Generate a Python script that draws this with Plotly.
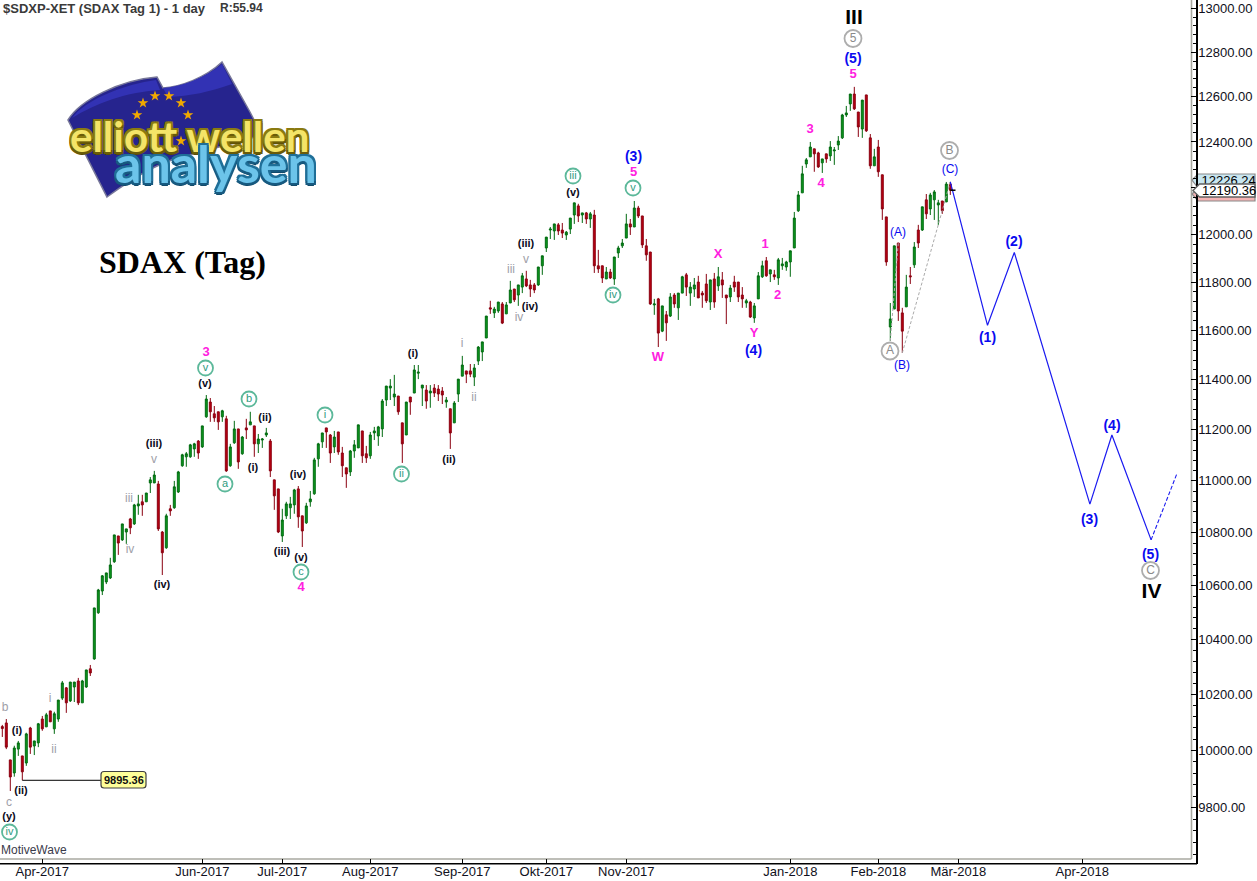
import math
import plotly.graph_objects as go

# ---------- price data (SDAX daily) ----------
open_ = [
 10085,10098,9967,9921,10005,9981,9956,10080,10016,10027,
 10112,10084,10141,10077,10112,10187,10224,10177,10227,10249,
 10170,10227,10293,10329,10499,10580,10614,10629,10690,10788,
 10773,10803,10853,10834,10903,10919,10919,10992,10992,10988,
 10803,10743,10892,10896,10957,11059,11094,11094,11125,11156,
 11133,11252,11311,11264,11272,11252,11244,11059,11149,11204,
 11106,11208,11220,11216,11145,11160,11180,11156,11004,10969,
 10788,10865,10896,10907,10969,10865,10838,10919,10950,11086,
 11153,11208,11180,11133,11192,11109,11051,11035,11117,11129,
 11196,11106,11098,11188,11176,11204,11319,11367,11331,11335,
 11228,11180,11331,11347,11427,11367,11359,11347,11367,11363,
 11355,11311,11284,11228,11343,11415,11436,11436,11411,11476,
 11513,11570,11694,11673,11681,11710,11669,11714,11772,11747,
 11780,11814,11789,11789,11789,11869,11944,12020,12016,12042,
 12020,11999,12024,12084,12123,12084,12093,12067,12084,11869,
 11869,11814,11843,11814,11923,11953,11986,12046,12033,12114,
 12080,11953,11927,11706,11731,11598,11665,11660,11747,11694,
 11755,11831,11755,11772,11801,11755,11793,11718,11814,11785,
 11810,11747,11739,11801,11801,11747,11714,11718,11652,11731,
 11823,11890,11835,11831,11818,11869,11864,11885,11944,12102,
 12179,12304,12335,12370,12352,12309,12348,12339,12361,12387,
 12418,12519,12568,12612,12532,12457,12608,12418,12296,12378,
 12257,12076,11615,11689,11965,11673,11698,11827,11873,12020,
 12020,12149,12110,12149,12127,12144,12140,12217]
high = [
 10091,10112,9967,10017,10034,9981,10063,10084,10034,10098,
 10123,10134,10141,10138,10180,10249,10227,10245,10245,10260,
 10253,10289,10307,10517,10588,10640,10648,10705,10792,10788,
 10834,10815,10857,10911,10946,10946,10953,11015,11039,11000,
 10807,10873,10907,11000,11039,11106,11113,11145,11149,11160,
 11216,11339,11327,11295,11272,11280,11256,11145,11236,11204,
 11176,11244,11272,11216,11184,11168,11208,11164,11004,10969,
 10892,10919,10938,10969,10980,10865,10915,10961,11090,11149,
 11188,11208,11184,11196,11192,11133,11051,11121,11160,11220,
 11196,11137,11192,11212,11216,11323,11375,11403,11420,11335,
 11228,11311,11331,11460,11460,11379,11379,11379,11383,11379,
 11371,11331,11284,11315,11403,11497,11436,11464,11464,11537,
 11554,11660,11723,11698,11718,11718,11718,11806,11772,11789,
 11839,11848,11810,11797,11864,11911,11990,12033,12046,12050,
 12050,12016,12071,12136,12132,12093,12097,12097,12106,11936,
 11869,11864,11856,11906,11953,11982,12089,12067,12144,12123,
 12080,11982,11927,11731,11735,11702,11681,11755,11755,11755,
 11827,11839,11801,11818,11827,11764,11835,11810,11839,11864,
 11843,11747,11789,11827,11801,11780,11731,11723,11714,11843,
 11890,11906,11852,11852,11902,11902,11890,11932,12097,12187,
 12296,12330,12400,12370,12357,12326,12348,12404,12378,12426,
 12524,12559,12612,12644,12532,12585,12608,12435,12370,12409,
 12257,12076,11714,11953,11965,11694,11831,11864,11969,12042,
 12119,12174,12179,12191,12149,12144,12226,12226.24]
low = [
 10048,10005,9858,9908,9981,9895.36,9946,9988,9984,10012,
 10070,10084,10102,10059,10102,10180,10134,10173,10173,10162,
 10170,10224,10267,10326,10495,10565,10606,10625,10686,10716,
 10769,10758,10795,10830,10869,10865,10919,10953,10992,10807,
 10640,10739,10865,10892,10953,11055,11055,11090,11094,11086,
 11129,11248,11232,11232,11200,11232,11035,11055,11145,11047,
 11102,11164,11220,11094,11109,11129,11172,11015,10888,10799,
 10765,10853,10853,10873,10819,10746,10834,10900,10946,11055,
 11129,11129,11070,11109,11102,11015,10973,11019,11090,11129,
 11070,11070,11086,11160,11137,11172,11295,11319,11295,11260,
 11070,11180,11260,11347,11403,11295,11284,11288,11331,11315,
 11303,11288,11125,11228,11311,11415,11387,11411,11375,11460,
 11476,11570,11669,11652,11673,11627,11669,11714,11718,11702,
 11755,11780,11739,11755,11785,11831,11927,11982,11978,11999,
 11986,11978,12003,12046,12054,12050,12046,12029,11839,11839,
 11797,11814,11814,11789,11902,11944,11986,11999,12033,12071,
 11944,11890,11706,11665,11533,11594,11558,11656,11694,11644,
 11755,11743,11702,11739,11735,11694,11714,11685,11694,11764,
 11735,11627,11718,11760,11718,11694,11694,11652,11632,11731,
 11818,11823,11801,11810,11789,11852,11848,11823,11944,12097,
 12179,12287,12335,12270,12287,12265,12309,12317,12300,12365,
 12413,12510,12537,12541,12422,12418,12444,12283,12296,12248,
 12063,11869,11558,11689,11640,11509,11698,11793,11860,11944,
 12016,12067,12084,12063,12042,12089,12140,12170]
close = [
 10078,10012,9907,10009,10027,9925,10059,10012,10034,10095,
 10077,10127,10102,10131,10180,10242,10170,10245,10245,10170,
 10249,10289,10278,10517,10584,10637,10648,10678,10792,10761,
 10834,10815,10819,10907,10911,10907,10953,11004,11023,10815,
 10724,10865,10884,10977,11035,11102,11106,11141,11145,11109,
 11216,11323,11272,11248,11232,11276,11039,11133,11204,11074,
 11172,11200,11232,11145,11164,11164,11188,11039,10942,10803,
 10849,10911,10911,10965,10861,10807,10903,10930,11082,11145,
 11188,11192,11109,11172,11113,11059,11027,11117,11141,11220,
 11098,11090,11180,11196,11212,11315,11375,11375,11343,11272,
 11145,11311,11311,11440,11431,11379,11315,11355,11347,11343,
 11339,11319,11188,11307,11403,11460,11423,11423,11448,11533,
 11554,11660,11689,11689,11718,11631,11706,11768,11727,11789,
 11827,11785,11772,11768,11864,11911,11990,12024,12046,12016,
 12007,12011,12071,12136,12080,12093,12067,12089,11869,11856,
 11818,11843,11818,11906,11944,11965,12046,12033,12114,12080,
 11957,11915,11710,11710,11590,11702,11632,11739,11710,11755,
 11823,11780,11780,11789,11735,11747,11723,11810,11718,11823,
 11789,11735,11776,11780,11739,11731,11723,11656,11702,11827,
 11869,11827,11852,11823,11894,11877,11885,11932,12071,12170,
 12261,12322,12378,12348,12291,12326,12326,12378,12365,12404,
 12519,12528,12612,12546,12466,12585,12449,12296,12335,12270,
 12110,11885,11648,11953,11681,11598,11780,11823,11948,11965,
 12119,12089,12170,12183,12136,12102,12217,12190.36]

# projected wave path (bar number, price)
wave_bars = [237, 246.3, 253, 271.9, 277.4, 287.2]
wave_prices = [12226.24, 11622, 11925, 10910, 11180, 10773]
wave_end_bars = [287.2, 293.7]
wave_end_prices = [10773, 11030]
guide_a_bars, guide_a_prices = [222, 224], [11558, 11965]
guide_b_bars, guide_b_prices = [225, 237], [11509, 12226.24]

x_tick_bars = [10, 50, 70, 92, 115, 136, 156, 197, 219, 239, 270]
x_tick_text = ["Apr-2017","Jun-2017","Jul-2017","Aug-2017","Sep-2017","Okt-2017",
               "Nov-2017","Jan-2018","Feb-2018","Mär-2018","Apr-2018"]
y_ticks = [9800,10000,10200,10400,10600,10800,11000,11200,11400,11600,11800,12000,12200,12400,12600,12800,13000]
y_minor = [v for v in range(9640, 13040, 40) if v % 200 != 0]

# ---------- page geometry ----------
W, H = 1257, 881
AXIS_X, PL_H = 1197, 864
def bx(px): return (px - 2.3) / 4.0
def pr(py): return 13000 * math.exp(-(py - 8.3) / 2829.0)
def fx(px): return px / W
def fy(py): return 1 - py / PL_H
def poly(pts):
    return "M " + " L ".join(f"{fx(a):.5f},{fy(b):.5f}" for a, b in pts) + " Z"

# ---------- wave labels (centre position on the page) ----------
BLACK = [("(y)",9,816),("(i)",17,730),("(ii)",21,790.5),("(iv)",162,584),("(iii)",154,443),
         ("(v)",205,383),("(ii)",265,417),("(i)",253,467),("(iii)",282,551),("(v)",301,557),
         ("(iv)",298,474),("(i)",413,353),("(ii)",449,459),("(iii)",526,243),("(iv)",530,306),
         ("(v)",573,192)]
GRAY = [("b",5,707),("c",9,802),("i",50,698),("ii",54,749),("iii",129,498),("iv",130,549),
        ("v",154,459),("i",462,343),("ii",474,397),("iii",511,269),("v",526,259),("iv",519,317)]
MAGENTA = [("3",206,352),("4",301,587),("5",633.5,172),("W",658,357),("X",718,254),("1",765,244),
           ("2",777.5,295),("Y",754,333),("3",810,129),("4",821,183),("5",853,74)]
BLUE_BOLD = [("(3)",633.5,156),("(4)",753.5,350.5),("(5)",853,58),("(1)",987.5,337),("(2)",1014,241),
             ("(3)",1089.5,519),("(4)",1112,425),("(5)",1150.5,554)]
BLUE_THIN = [("(A)",898,232),("(B)",902,365),("(C)",950,169)]
ROMAN = [("III",854,17.5),("IV",1151.5,592)]
CIRCLE_GREEN = [("iv",9.5,832),("v",205.5,368),("b",249,399),("a",225,484),("c",301,572),("i",325,415),
                ("ii",401.5,474),("iii",573,176),("v",633,188),("iv",613,295)]
CIRCLE_GRAY = [("5",853,38.5),("A",890,351),("B",949.5,150.5),("C",1150.5,570.5)]
STARS = [(143,103),(155,96),(169,96),(181,103),(188,115),(181,141),(137,115)]
TEXT_DY = 1

fig = go.Figure()

def add_labels(items, size, color, bold=False, family="Liberation Sans"):
    fig.add_trace(go.Scatter(
        x=[bx(a) for _, a, _ in items], y=[pr(b + TEXT_DY) for _, _, b in items],
        text=[t for t, _, _ in items], mode="text", textposition="middle center",
        textfont=dict(family=family, size=size, color=color, weight=700 if bold else 400),
        hoverinfo="skip", showlegend=False, cliponaxis=False))

def add_circles(items, size, ring, txt, fsize):
    fig.add_trace(go.Scatter(
        x=[bx(a) for _, a, _ in items], y=[pr(b) for _, _, b in items],
        text=[t for t, _, _ in items], mode="markers+text", textposition="middle center",
        marker=dict(symbol="circle", size=size, color="white", line=dict(color=ring, width=1.8)),
        textfont=dict(family="Liberation Sans", size=fsize, color=txt),
        hoverinfo="skip", showlegend=False, cliponaxis=False))

fig.add_trace(go.Candlestick(
    x=list(range(len(close))), open=open_, high=high, low=low, close=close,
    increasing=dict(line=dict(color="#006a10", width=1), fillcolor="#0c9a1e"),
    decreasing=dict(line=dict(color="#8a0010", width=1), fillcolor="#bb0010"),
    whiskerwidth=0, showlegend=False, hoverinfo="skip"))

line_kw = dict(mode="lines", hoverinfo="skip", showlegend=False)
fig.add_trace(go.Scatter(x=guide_a_bars, y=guide_a_prices, line=dict(color="#aaaaaa", width=1, dash="3px,2px"), **line_kw))
fig.add_trace(go.Scatter(x=guide_b_bars, y=guide_b_prices, line=dict(color="#aaaaaa", width=1, dash="3px,2px"), **line_kw))
fig.add_trace(go.Scatter(x=wave_bars, y=wave_prices, line=dict(color="#1a1af0", width=1.2), **line_kw))
fig.add_trace(go.Scatter(x=wave_end_bars, y=wave_end_prices, line=dict(color="#1a1af0", width=1.1, dash="4px,2px"), **line_kw))
fig.add_trace(go.Scatter(x=[237, 238.3], y=[12190.36, 12190.36], line=dict(color="black", width=1.5), **line_kw))
fig.add_trace(go.Scatter(x=[5, bx(102)], y=[9895.36, 9895.36], line=dict(color="black", width=1), **line_kw))

add_labels(BLACK, 11, "#0a0a20", bold=True)
add_labels(GRAY, 12, "#a0a0a8")
add_labels(MAGENTA, 13, "#ff20e0", bold=True)
add_labels(BLUE_BOLD, 14, "#0a0af0", bold=True)
add_labels(BLUE_THIN, 12, "#0a0af0")
add_labels(ROMAN, 21, "black", bold=True)
add_circles(CIRCLE_GREEN, 15, "#5cb89a", "#2f9a80", 11)
add_circles(CIRCLE_GRAY, 17, "#adadad", "#8a8a8a", 12)

# logo stars
fig.add_trace(go.Scatter(
    x=[bx(a) for a, _ in STARS], y=[pr(b) for _, b in STARS], mode="markers",
    marker=dict(symbol="star", size=8, color="#f0a800", line=dict(width=0)),
    hoverinfo="skip", showlegend=False))

# upper price tag text, half covered by the white tag
fig.add_trace(go.Scatter(
    x=[bx(1201.5)], y=[pr(181.5)], text=["12226.24"], mode="text", textposition="middle right",
    textfont=dict(family="Liberation Sans", size=13, color="black"),
    hoverinfo="skip", showlegend=False))

shapes = [
    # inner gray frame and bottom axis line
    dict(type="line", xref="paper", yref="paper", x0=fx(1191.5), x1=fx(1191.5), y0=fy(859), y1=1,
         line=dict(color="#a8a8a0", width=1.6), layer="below"),
    dict(type="line", xref="paper", yref="paper", x0=0, x1=fx(1191.5), y0=fy(859), y1=fy(859),
         line=dict(color="#a8a8a0", width=1.6), layer="below"),
    dict(type="line", xref="paper", yref="paper", x0=0, x1=fx(AXIS_X), y0=fy(863.7), y1=fy(863.7),
         line=dict(color="black", width=1.5), layer="above"),
    # logo flag
    dict(type="path", xref="paper", yref="paper", layer="below", fillcolor="#26248e",
         line=dict(color="#777799", width=1.5),
         path=f"M {fx(68)},{fy(120)} C {fx(80)},{fy(100)} {fx(120)},{fy(80)} {fx(157)},{fy(77)} "
              f"L {fx(163)},{fy(88)} C {fx(180)},{fy(87)} {fx(205)},{fy(78)} {fx(222)},{fy(62)} "
              f"L {fx(250)},{fy(112)} L {fx(262)},{fy(135)} L {fx(190)},{fy(155)} "
              f"C {fx(160)},{fy(160)} {fx(130)},{fy(180)} {fx(107)},{fy(197)} Z"),
    dict(type="path", xref="paper", yref="paper", layer="below", fillcolor="#3232b4", line=dict(width=0),
         path=f"M {fx(72)},{fy(118)} C {fx(85)},{fy(100)} {fx(125)},{fy(84)} {fx(156)},{fy(80)} "
              f"L {fx(160)},{fy(90)} C {fx(125)},{fy(92)} {fx(95)},{fy(104)} {fx(72)},{fy(118)} Z"),
    dict(type="path", xref="paper", yref="paper", layer="below", fillcolor="#3232b4", line=dict(width=0),
         path=f"M {fx(163)},{fy(88)} C {fx(180)},{fy(87)} {fx(205)},{fy(78)} {fx(222)},{fy(64)} "
              f"L {fx(232)},{fy(84)} C {fx(210)},{fy(92)} {fx(190)},{fy(96)} {fx(168)},{fy(97)} Z"),
    # price tags
    dict(type="path", xref="paper", yref="paper", layer="below", fillcolor="#c8e6f0",
         line=dict(color="#8a8a8a", width=1.2),
         path=poly([(1192, 180), (1198, 174), (1255, 174), (1255, 188), (1198, 188)])),
    dict(type="path", xref="paper", yref="paper", layer="below", fillcolor="#f5b4b4",
         line=dict(color="#8a8a8a", width=1.2),
         path=poly([(1192, 194), (1198, 188), (1255, 188), (1255, 201), (1198, 201)])),
    dict(type="path", xref="paper", yref="paper", layer="above", fillcolor="white",
         line=dict(color="#606060", width=1.4),
         path=poly([(1193, 190.5), (1199.5, 184), (1255, 184), (1255, 197), (1199.5, 197)])),
    # low-price box
    dict(type="path", xref="paper", yref="paper", layer="above", fillcolor="#ffff99",
         line=dict(color="#404040", width=1.2),
         path=f"M {fx(104)},{fy(771.5)} L {fx(143)},{fy(771.5)} Q {fx(146)},{fy(771.5)} {fx(146)},{fy(774.5)} "
              f"L {fx(146)},{fy(785)} Q {fx(146)},{fy(788)} {fx(143)},{fy(788)} L {fx(104)},{fy(788)} "
              f"Q {fx(101)},{fy(788)} {fx(101)},{fy(785)} L {fx(101)},{fy(774.5)} Q {fx(101)},{fy(771.5)} {fx(104)},{fy(771.5)} Z"),
]

def note(text, px, py, size, color, anchor="left", bold=False, family="Liberation Sans", shadow=None):
    font = dict(family=family, size=size, color=color, weight=700 if bold else 400)
    if shadow:
        font["shadow"] = shadow
    return dict(text=text, x=fx(px), y=fy(py), xref="paper", yref="paper", xanchor=anchor, yanchor="middle",
                showarrow=False, font=font, borderpad=0, borderwidth=0)

outline_y = ("-2px -2px 0 #8a7a10,2px -2px 0 #8a7a10,-2px 2px 0 #6a5c08,2px 2px 0 #6a5c08,"
             "0 -2px 0 #8a7a10,0 3px 0 #5a4e06,-2px 0 0 #8a7a10,2px 0 0 #8a7a10")
outline_b = ("-2px -2px 0 #1f6f98,2px -2px 0 #1f6f98,-2px 2px 0 #175a80,2px 2px 0 #175a80,"
             "0 -2px 0 #1f6f98,0 3px 0 #124a6a,-2px 0 0 #1f6f98,2px 0 0 #1f6f98")
annotations = [
    note("$SDXP-XET (SDAX Tag 1) - 1 day", 3, 8, 13, "#3a3a3a", bold=True),
    note("R:55.94", 220, 7.5, 12, "#3a3a3a", bold=True),
    note("MotiveWave", 1, 849.5, 12, "#3a3a4a"),
    note("SDAX (Tag)", 99, 262, 32, "black", bold=True, family="Liberation Serif"),
    note("9895.36", 123.5, 780, 11, "#101010", anchor="center", bold=True),
    note("12190.36", 1201.5, 190.5, 13, "black"),
    note("elliott wellen", 189, 136, 42, "#f4e468", anchor="center", bold=True, family="Lato", shadow=outline_y),
    note("analysen", 216, 163, 52, "#6cc4ea", anchor="center", bold=True, family="Lato", shadow=outline_b),
]

fig.update_layout(
    width=W, height=H, paper_bgcolor="white", plot_bgcolor="white",
    margin=dict(l=0, r=0, t=0, b=H - PL_H, pad=0, autoexpand=False),
    showlegend=False, shapes=shapes, annotations=annotations, hovermode=False,
    xaxis=dict(range=[bx(0), bx(W)], rangeslider=dict(visible=False), showgrid=False, zeroline=False,
               tickmode="array", tickvals=x_tick_bars, ticktext=x_tick_text, ticks="inside", ticklen=5,
               tickcolor="black", tickwidth=1, showline=False, ticklabelstandoff=-2,
               tickfont=dict(family="Liberation Sans", size=13, color="#101020")),
    yaxis=dict(type="log", side="right", anchor="free", position=AXIS_X / W,
               range=[math.log10(pr(PL_H)), math.log10(pr(0))], showgrid=False,
               zeroline=False, tickmode="array", tickvals=y_ticks,
               ticktext=[("" if v == 12200 else f"{v:.2f}") for v in y_ticks],
               ticks="inside", ticklen=5, tickcolor="black", tickwidth=1, showline=True, linecolor="black", linewidth=1.5,
               ticklabelstandoff=-2,
               tickfont=dict(family="Liberation Sans", size=13, color="#101020"),
               minor=dict(tickmode="array", tickvals=y_minor, ticks="inside", ticklen=3, tickcolor="black", tickwidth=1)),
)

fig.write_html("out.html", config=dict(displayModeBar=False),
               post_script="document.body.style.margin='0';document.body.style.overflow='hidden';")
